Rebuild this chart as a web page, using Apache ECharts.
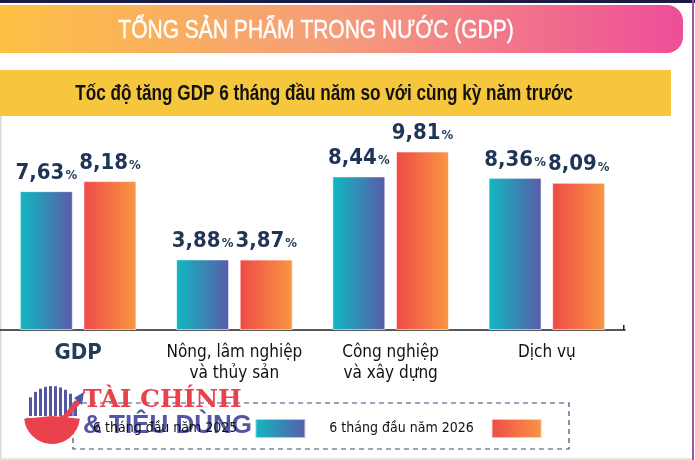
<!DOCTYPE html>
<html>
<head>
<meta charset="utf-8">
<script src="https://cdn.jsdelivr.net/npm/echarts@6/dist/echarts.min.js"></script>
<style>
  html, body { margin: 0; padding: 0; background: #fff; }
  #app { width: 695px; height: 460px; }
</style>
</head>
<body>
<div id="app"></div>
<script>
// data
const categories = ["GDP", "Nông, lâm nghiệp\nvà thủy sản", "Công nghiệp\nvà xây dựng", "Dịch vụ"];
const seriesNames = ["6 tháng đầu năm 2025", "6 tháng đầu năm 2026"];
const values2025 = [7.63, 3.88, 8.44, 8.36];
const values2026 = [8.18, 3.87, 9.81, 8.09];

const title = "TỔNG SẢN PHẨM TRONG NƯỚC (GDP)";
const subtitle = "Tốc độ tăng GDP 6 tháng đầu năm so với cùng kỳ năm trước";

const COND = "'DejaVu Sans Condensed', 'DejaVu Sans', sans-serif";
const SANS = "'Liberation Sans', Arial, sans-serif";
const NAVY = "#1F3556";

function hGrad(c1, c2) {
  return new echarts.graphic.LinearGradient(0, 0, 1, 0, [
    { offset: 0, color: c1 },
    { offset: 1, color: c2 }
  ]);
}

function pctLabel(p) {
  return "{v|" + p.value.toFixed(2).replace(".", ",") + "}{p|%}";
}

const labelCfg = {
  show: true,
  position: "top",
  distance: 7,
  formatter: pctLabel,
  rich: {
    v: { fontFamily: COND, fontWeight: "bold", fontSize: 22, color: NAVY },
    p: { fontFamily: COND, fontWeight: "bold", fontSize: 13, color: NAVY, padding: [5, 0, 0, 1] }
  }
};

// watermark logo stripes (decoration only)
function logoStripes(cx, cy, r) {
  const out = [];
  for (let x = cx - r + 3; x < cx + r - 2; x += 5) {
    const h = Math.sqrt(r * r - Math.pow(x + 1.5 - cx, 2));
    out.push({
      type: "rect",
      shape: { x: x, y: cy - h, width: 3, height: h + 4 },
      style: { fill: "#5256A5" }
    });
  }
  return out;
}

const chart = echarts.init(document.getElementById("app"));

chart.setOption({
  backgroundColor: "#fff",
  animation: false,
  grid: { left: 0, right: 70, top: 148, bottom: 130 },
  xAxis: {
    type: "category",
    data: categories,
    axisLine: { lineStyle: { color: "#222", width: 1.5 } },
    axisTick: { show: false },
    axisLabel: {
      interval: 0,
      margin: 12,
      fontFamily: COND,
      fontSize: 17,
      lineHeight: 21,
      color: "#111",
      formatter: (v, i) => (i === 0 ? "{g|" + v + "}" : v),
      rich: {
        g: { fontFamily: COND, fontWeight: "bold", fontSize: 22, color: "#243B5E", padding: [2, 0, 0, 0] }
      }
    }
  },
  yAxis: { type: "value", min: 0, max: 10, show: false },
  legend: {
    data: seriesNames,
    left: 88,
    top: 413,
    align: "right",
    icon: "rect",
    itemWidth: 50,
    itemHeight: 19,
    itemGap: 23,
    textStyle: { fontFamily: COND, fontSize: 14, color: "#111", padding: [0, 13, 0, 0] }
  },
  series: [
    {
      name: seriesNames[0],
      type: "bar",
      data: values2025,
      barWidth: 53,
      barGap: "20%",
      itemStyle: { color: hGrad("#10B9C2", "#5A5BA8"), borderColor: "rgba(255,255,255,0.6)", borderWidth: 1 },
      label: labelCfg
    },
    {
      name: seriesNames[1],
      type: "bar",
      data: values2026,
      barWidth: 53,
      itemStyle: { color: hGrad("#EE4A47", "#F99743"), borderColor: "rgba(255,255,255,0.6)", borderWidth: 1 },
      label: labelCfg
    }
  ],
  graphic: [
    // frame
    { type: "rect", shape: { x: 0, y: 0, width: 695, height: 3 }, style: { fill: "#1B1A45" } },
    { type: "rect", shape: { x: 692, y: 0, width: 2, height: 460 }, style: { fill: "#A0559A" } },
    { type: "rect", shape: { x: 0, y: 110, width: 1.5, height: 350 }, style: { fill: "#DADADA" } },
    { type: "rect", shape: { x: 0, y: 458, width: 692, height: 2 }, style: { fill: "#E4E4E4" } },
    // header
    {
      type: "rect",
      shape: { x: 0, y: 5, width: 683, height: 48, r: [0, 16, 16, 0] },
      style: {
        fill: new echarts.graphic.LinearGradient(0, 0, 1, 0, [
          { offset: 0, color: "#FDC144" },
          { offset: 0.5, color: "#F59C7B" },
          { offset: 1, color: "#EE4E99" }
        ])
      }
    },
    {
      type: "text",
      x: 316, y: 31,
      scaleX: 0.84,
      style: {
        text: title, fill: "#fff", fontFamily: SANS, fontSize: 25,
        align: "center", verticalAlign: "middle",
        stroke: "#fff", lineWidth: 0.4
      }
    },
    { type: "rect", shape: { x: 0, y: 70, width: 671, height: 46 }, style: { fill: "#F6C63C" } },
    {
      type: "text",
      x: 324, y: 94,
      scaleX: 0.78,
      style: {
        text: subtitle, fill: "#111", fontFamily: SANS, fontWeight: "bold", fontSize: 22,
        align: "center", verticalAlign: "middle"
      }
    },
    // axis end tick
    { type: "rect", shape: { x: 623, y: 325, width: 1.5, height: 5 }, style: { fill: "#222" } },
    // legend frame
    {
      type: "rect",
      shape: { x: 73, y: 403, width: 496, height: 46 },
      style: { fill: "none", stroke: "#3D4A7A", lineWidth: 1.2, lineDash: [5, 4] }
    },
    // watermark
    {
      type: "group",
      z: 1,
      children: [
        { type: "sector", shape: { cx: 52, cy: 416, r: 28, r0: 0, startAngle: 0.1, endAngle: Math.PI - 0.1 }, style: { fill: "#E9424C" } },
        { type: "group", children: logoStripes(52, 412, 26) },
        {
          type: "polyline",
          shape: { points: [[26, 420], [45, 425], [65, 417], [80, 400]] },
          style: { stroke: "#E9424C", lineWidth: 5, fill: "none" }
        },
        { type: "polygon", shape: { points: [[74, 398], [84, 392], [82, 405]] }, style: { fill: "#5256A5" } },
        {
          type: "text", x: 83, y: 388,
          style: { text: "TÀI CHÍNH", fill: "#E9424C", fontFamily: "'DejaVu Serif', serif", fontWeight: "bold", fontSize: 25 }
        },
        {
          type: "text", x: 83, y: 413,
          style: { text: "& TIÊU DÙNG", fill: "#5256A5", fontFamily: SANS, fontWeight: "bold", fontSize: 26 }
        }
      ]
    }
  ]
});

window.onresize = function() {
  chart.resize();
};
</script>
</body>
</html>
